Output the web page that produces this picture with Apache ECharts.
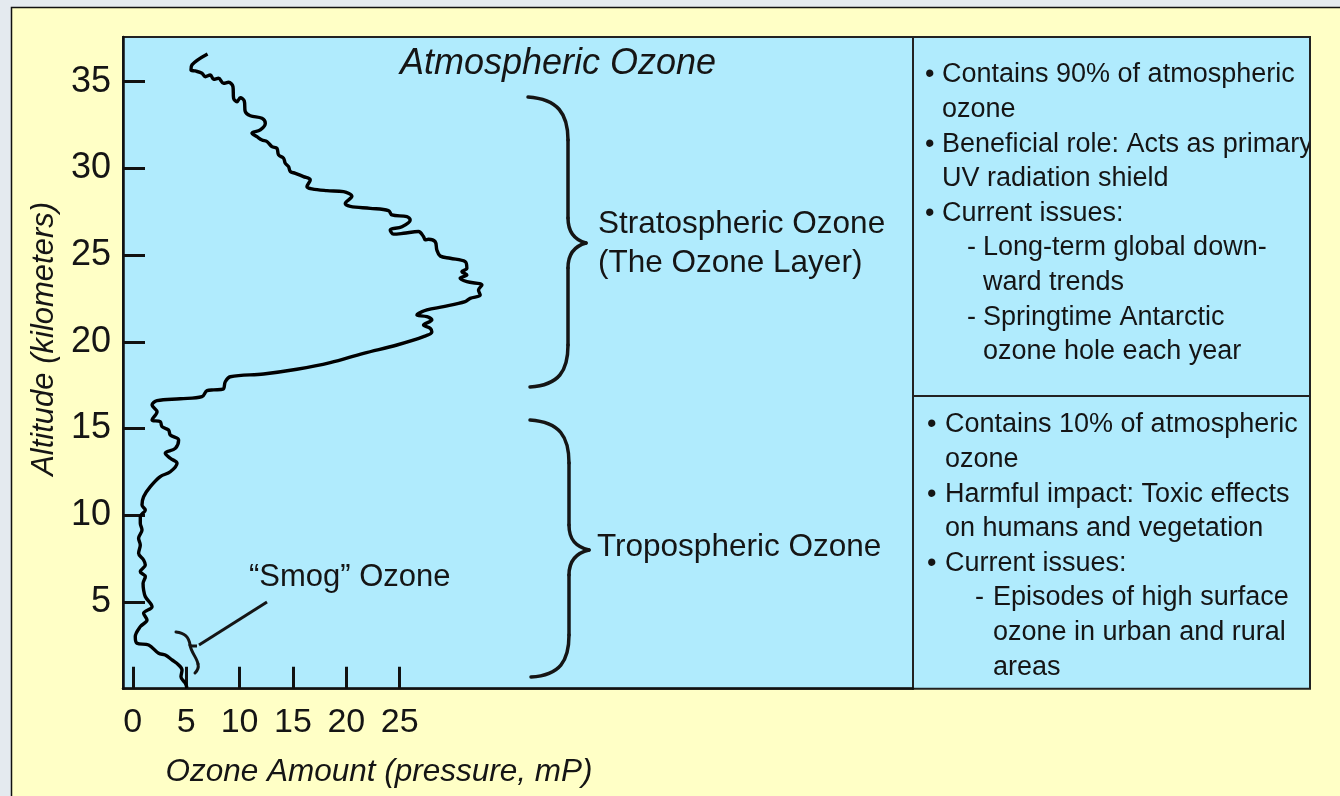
<!DOCTYPE html>
<html>
<head>
<meta charset="utf-8">
<script src="https://cdn.jsdelivr.net/npm/echarts@6/dist/echarts.min.js"></script>
<style>
html,body{margin:0;padding:0;background:#E4EAEF;}
#chart{width:1340px;height:796px;}
</style>
</head>
<body>
<div id="chart"></div>
<script>
// Ozone profile: ozone partial pressure (mPa) vs altitude (km), in drawing order
const ozoneValues = [7.00,5.54,5.45,5.85,6.48,6.79,7.26,7.57,8.03,8.50,8.97,9.38,9.44,9.76,10.07,10.44,10.53,11.00,12.10,12.41,11.94,11.16,11.63,12.10,12.57,13.03,13.50,13.65,14.12,14.28,14.59,14.75,15.22,15.99,16.62,16.31,16.78,18.18,19.74,20.52,19.90,20.37,22.24,23.95,24.27,25.67,25.98,25.21,24.11,24.42,25.36,26.76,27.23,27.39,27.70,28.32,28.48,28.79,29.73,31.13,31.29,30.82,31.29,30.66,31.29,32.70,32.38,32.54,31.60,31.13,29.10,27.55,26.61,27.55,28.01,27.23,27.86,28.01,27.23,24.74,21.61,18.49,15.37,12.25,9.13,8.66,8.45,7.57,6.95,6.48,4.45,2.27,1.80,2.27,1.80,2.57,2.73,3.35,3.51,4.29,3.98,3.04,3.51,4.14,3.51,2.57,1.64,1.01,0.86,1.17,0.70,0.70,0.86,0.54,0.70,0.54,1.01,1.17,0.70,1.17,0.96,1.01,1.17,1.80,1.01,1.33,0.70,0.23,0.39,1.48,2.42,3.04,3.67,4.29,4.61,4.51,4.92,5.07];
const altitudeValues = [36.60,35.97,35.68,35.62,35.49,35.29,35.39,35.14,35.20,34.91,34.97,34.72,34.05,33.85,34.08,33.89,33.28,33.04,32.89,32.61,32.22,32.03,31.83,31.64,31.55,31.26,31.16,30.78,30.59,30.30,30.10,29.82,29.72,29.53,29.34,28.95,28.82,28.72,28.66,28.39,27.98,27.81,27.70,27.57,27.32,27.22,27.03,26.64,26.45,26.21,26.26,26.36,26.07,25.88,25.92,25.78,25.30,24.95,24.82,24.63,24.24,24.05,23.86,23.67,23.47,23.28,22.99,22.70,22.51,22.32,22.03,21.84,21.55,21.45,21.26,20.97,20.78,20.57,20.30,19.82,19.34,18.80,18.42,18.15,17.99,17.70,17.27,17.23,17.19,16.84,16.72,16.61,16.36,15.97,15.50,15.40,15.11,14.92,14.63,14.34,13.86,13.58,13.29,13.00,12.51,12.23,11.65,11.07,10.59,10.31,9.92,9.54,9.15,8.67,8.29,7.81,7.42,7.13,6.75,6.46,6.08,5.69,5.31,4.73,4.35,3.96,3.58,3.00,2.62,2.52,2.04,1.94,1.66,1.37,1.08,0.69,0.31,0.04];
const xTickValues = [0,5,10,15,20,25];
const yTickValues = [5,10,15,20,25,30,35];

const titleText = 'Atmospheric Ozone';
const xAxisName = 'Ozone Amount (pressure, mP)';
const yAxisName = 'Altitude (kilometers)';
const stratoLabel = ['Stratospheric Ozone', '(The Ozone Layer)'];
const tropoLabel = 'Tropospheric Ozone';
const smogLabel = '\u201CSmog\u201D Ozone';
const stratoNotes = [
  ['\u2022', 'Contains 90% of atmospheric', 0],
  ['', 'ozone', 0],
  ['\u2022', 'Beneficial role: Acts as primary', 0],
  ['', 'UV radiation shield', 0],
  ['\u2022', 'Current issues:', 0],
  ['-', 'Long-term global down-', 1],
  ['', 'ward trends', 1],
  ['-', 'Springtime Antarctic', 1],
  ['', 'ozone hole each year', 1]
];
const tropoNotes = [
  ['\u2022', 'Contains 10% of atmospheric', 0],
  ['', 'ozone', 0],
  ['\u2022', 'Harmful impact: Toxic effects', 0],
  ['', 'on humans and vegetation', 0],
  ['\u2022', 'Current issues:', 0],
  ['-', 'Episodes of high surface', 2],
  ['', 'ozone in urban and rural', 2],
  ['', 'areas', 2]
];

const profile = ozoneValues.map((v, i) => [v, altitudeValues[i]]);

const FONT = '"Liberation Sans", Arial, Helvetica, sans-serif';
const INK = '#151515';
const BLUE = '#B0EBFD';
const YELLOW = '#FFFFC6';

function noteTexts(lines, top, bulletX, textX, indentDash, indentText) {
  const out = [];
  lines.forEach((l, i) => {
    const y = top + i * 34.6;
    const ind = l[2];
    let mx = bulletX, tx = textX;
    if (ind === 1) { mx = indentDash[0]; tx = indentText[0]; }
    if (ind === 2) { mx = indentDash[1]; tx = indentText[1]; }
    if (l[0]) out.push({type:'text', z:50, style:{x:mx, y:y, text:l[0], font:'27px ' + FONT, fill:INK, verticalAlign:'middle'}});
    out.push({type:'text', z:50, style:{x:tx, y:y, text:l[1], font:'27px ' + FONT, fill:INK, verticalAlign:'middle'}});
  });
  return out;
}
// segments: ['C', x1,y1, cpx1,cpy1, cpx2,cpy2, x2,y2] or ['L', x1,y1,x2,y2]
function strokeSegs(segs, w) {
  return segs.map(s => s[0] === 'C'
    ? {type:'bezierCurve', z:50, shape:{x1:s[1], y1:s[2], cpx1:s[3], cpy1:s[4], cpx2:s[5], cpy2:s[6], x2:s[7], y2:s[8]}, style:{stroke:INK, lineWidth:w, fill:null, lineCap:'round'}}
    : {type:'line', z:50, shape:{x1:s[1], y1:s[2], x2:s[3], y2:s[4]}, style:{stroke:INK, lineWidth:w, lineCap:'round'}});
}
function brace(xTop, yTop, xMid, yMid, xTip, xBot, yBot) {
  return strokeSegs([
    ['C', xTop, yTop, xTop + 30, yTop + 2, xMid, yTop + 17, xMid, yTop + 43],
    ['L', xMid, yTop + 43, xMid, yMid - 25],
    ['C', xMid, yMid - 25, xMid, yMid - 10, xMid + 7, yMid - 3, xTip, yMid],
    ['C', xTip, yMid, xMid + 7, yMid + 3, xMid, yMid + 11, xMid, yMid + 25],
    ['L', xMid, yMid + 25, xMid, yBot - 42],
    ['C', xMid, yBot - 42, xMid, yBot - 16, xMid - 9, yBot - 2, xBot, yBot]
  ], 3.5);
}

const chart = echarts.init(document.getElementById('chart'), null, {renderer:'canvas'});
const graphics = [
  {type:'rect', z:-20, shape:{x:0, y:0, width:1340, height:7}, style:{fill:'#E4EAEF'}},
  {type:'rect', z:-20, shape:{x:0, y:0, width:11, height:796}, style:{fill:'#E4EAEF'}},
  {type:'polyline', z:-19, shape:{points:[[11.5,796],[11.5,7.5],[1340,7.5]]}, style:{stroke:'#111', lineWidth:1.5, fill:null}},
  {type:'rect', z:-5, shape:{x:913, y:37, width:397, height:651.7}, style:{fill:BLUE, stroke:'#222', lineWidth:2}},
  {type:'line', z:60, shape:{x1:913, y1:396, x2:1310, y2:396}, style:{stroke:'#222', lineWidth:2}},
  {type:'line', z:50, shape:{x1:191, y1:646, x2:197, y2:646}, style:{stroke:INK, lineWidth:3}},
  {type:'line', z:50, shape:{x1:199, y1:645, x2:267, y2:602}, style:{stroke:INK, lineWidth:3}},
  {type:'text', z:50, style:{x:249, y:577, text:smogLabel, font:'31px ' + FONT, fill:INK, verticalAlign:'middle'}},
  {type:'text', z:50, style:{x:598, y:224, text:stratoLabel[0], font:'31.5px ' + FONT, fill:INK, verticalAlign:'middle'}},
  {type:'text', z:50, style:{x:598, y:263, text:stratoLabel[1], font:'31.5px ' + FONT, fill:INK, verticalAlign:'middle'}},
  {type:'text', z:50, style:{x:597, y:547, text:tropoLabel, font:'31.5px ' + FONT, fill:INK, verticalAlign:'middle'}}
]
.concat(brace(528, 97, 568, 243, 586, 530, 387))
.concat(brace(530, 420, 569, 550, 589, 531, 677))
.concat(strokeSegs([
  ['C', 176, 632, 185, 633, 189, 637, 190, 645],
  ['C', 190, 645, 191, 652, 197, 658, 198, 664],
  ['C', 198, 664, 199, 668, 197, 671, 195, 673]
], 3))
.concat(noteTexts(stratoNotes, 75, 925, 942, [967, 975], [983, 993]))
.concat(noteTexts(tropoNotes, 425, 927, 945, [967, 975], [983, 993]))
.concat([
  {type:'rect', z:55, shape:{x:1311, y:30, width:40, height:670}, style:{fill:YELLOW}},
  {type:'line', z:60, shape:{x1:1310, y1:37, x2:1310, y2:688.7}, style:{stroke:'#222', lineWidth:2}}
]);

chart.setOption({
  backgroundColor: YELLOW,
  animation: false,
  title: {
    text: titleText, left: 395, top: 41,
    textStyle: {fontFamily: FONT, fontStyle: 'italic', fontWeight: 'normal', fontSize: 36, color: INK}
  },
  grid: {left: 123, right: 427, top: 37, bottom: 107.3, show: true, backgroundColor: BLUE, borderColor: '#222', borderWidth: 2},
  xAxis: {
    type: 'value', min: -0.92, max: 73.08,
    name: xAxisName, nameLocation: 'middle', nameGap: 68,
    nameTextStyle: {fontFamily: FONT, fontStyle: 'italic', fontSize: 31.5, color: INK, padding: [0, 278, 0, 0]},
    axisLine: {show: true, onZero: false, lineStyle: {color: '#111', width: 2.5}},
    axisTick: {show: true, inside: true, length: 22, lineStyle: {color: '#111', width: 3}, customValues: xTickValues},
    axisLabel: {show: true, margin: 17, fontFamily: FONT, fontSize: 34, color: INK, customValues: xTickValues},
    splitLine: {show: false}
  },
  yAxis: {
    type: 'value', min: 0, max: 37.58,
    name: yAxisName, nameLocation: 'middle', nameGap: 60, nameRotate: 90,
    nameTextStyle: {fontFamily: FONT, fontStyle: 'italic', fontSize: 31, color: INK, padding: [0, 0, 0, 48]},
    axisLine: {show: true, onZero: false, lineStyle: {color: '#111', width: 2.5}},
    axisTick: {show: true, inside: true, length: 22, lineStyle: {color: '#111', width: 3}, customValues: yTickValues},
    axisLabel: {show: true, margin: 12, fontFamily: FONT, fontSize: 36, color: INK, customValues: yTickValues},
    splitLine: {show: false}
  },
  series: [{
    type: 'line', data: profile, showSymbol: false, smooth: 0.35,
    lineStyle: {color: '#000', width: 3.4}, z: 5, clip: false
  }],
  graphic: graphics
});
</script>
</body>
</html>
